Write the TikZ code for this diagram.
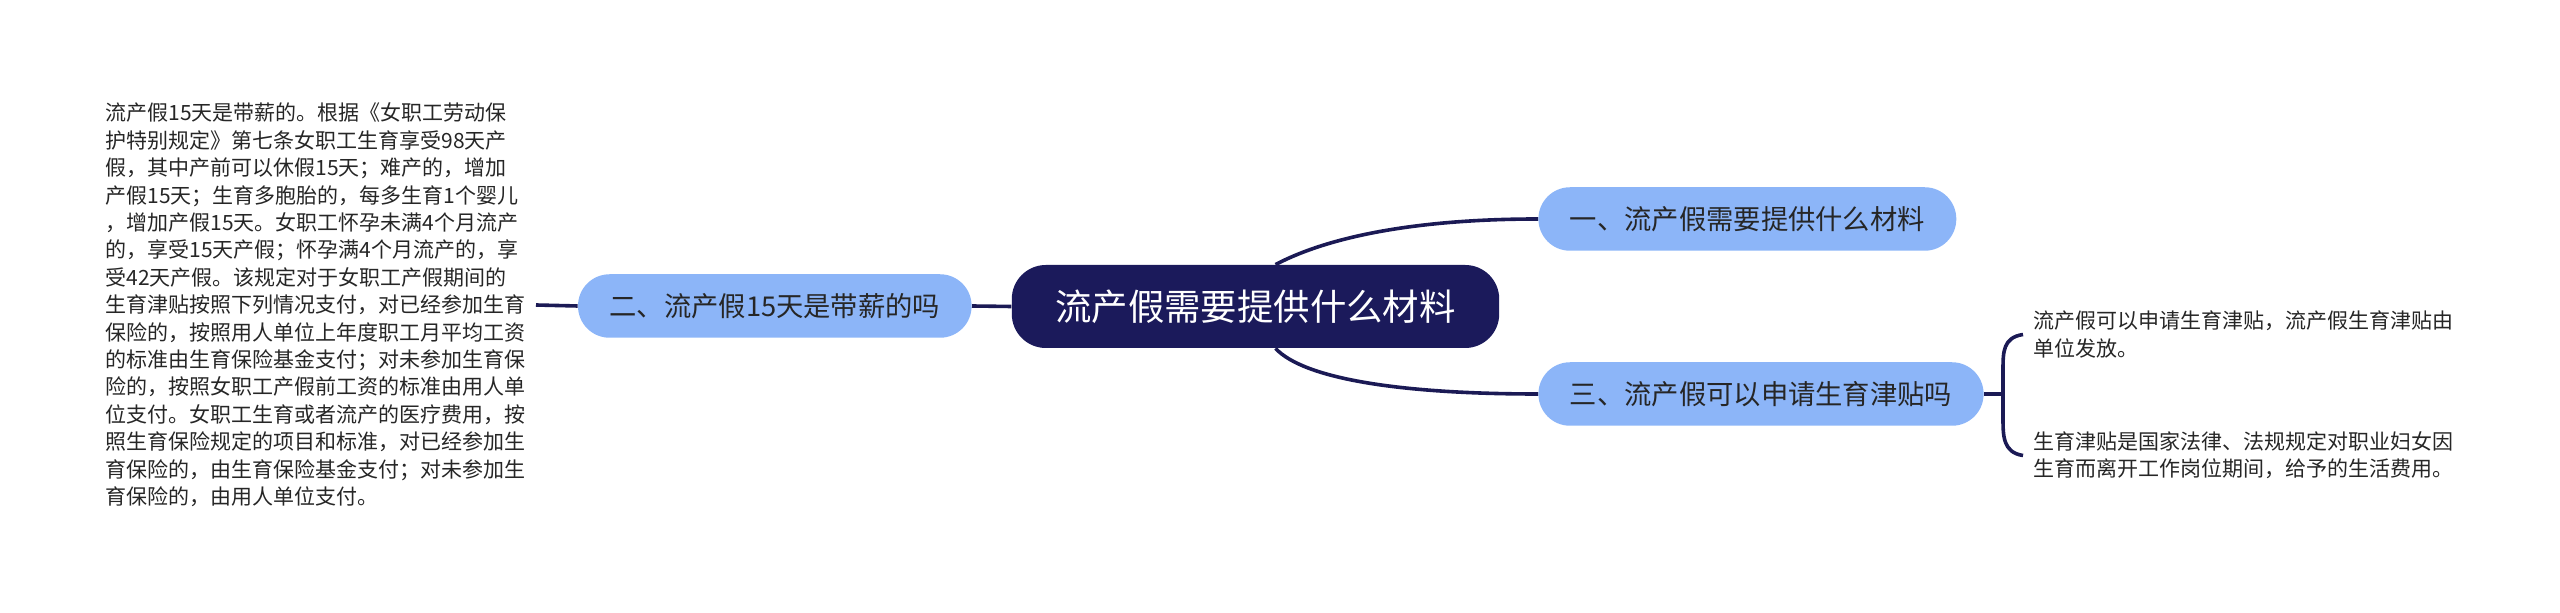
\documentclass[tikz,border=0pt]{standalone}
\usepackage{fontspec}
\setmainfont{Noto Sans CJK SC}
\definecolor{rootblue}{HTML}{1B1A5B}
\definecolor{branchblue}{HTML}{8CB5F8}
\definecolor{linkblue}{HTML}{1B1A55}
\definecolor{leaftext}{HTML}{262626}
\tikzset{
  rootnode/.style={fill=rootblue, text=white, rounded corners=17pt, minimum height=41.5pt, inner xsep=21.75pt, font=\fontsize{18.2}{20}\selectfont},
  branchnode/.style={fill=branchblue, text=leaftext, rounded corners=15.8pt, minimum height=31.75pt, inner xsep=15.75pt, font=\fontsize{13.65}{16}\selectfont},
  leafnode/.style={text=leaftext, align=left, inner sep=5pt, font=\fontsize{10.5}{13.7}\selectfont},
  linkline/.style={draw=linkblue, line width=1.8pt},
}
\begin{document}
\begin{tikzpicture}[x=0.5pt, y=-0.5pt]
  \useasboundingbox (0,0) rectangle (2560,613);
  \node[rootnode] (root) at (1255.5,306.5) {流产假需要提供什么材料};
  \node[branchnode, anchor=west] (b1) at (1538,219) {一、流产假需要提供什么材料}; % top right
  \node[branchnode, anchor=east] (b2) at (972,306) {二、流产假15天是带薪的吗}; % left
  \node[branchnode, anchor=west] (b3) at (1538,394) {三、流产假可以申请生育津贴吗}; % bottom right
  \node[leafnode, anchor=east] (t2) at (536,305) {流产假15天是带薪的。根据《女职工劳动保\\
    护特别规定》第七条女职工生育享受98天产\\
    假，其中产前可以休假15天；难产的，增加\\
    产假15天；生育多胞胎的，每多生育1个婴儿\\
    ，增加产假15天。女职工怀孕未满4个月流产\\
    的，享受15天产假；怀孕满4个月流产的，享\\
    受42天产假。该规定对于女职工产假期间的\\
    生育津贴按照下列情况支付，对已经参加生育\\
    保险的，按照用人单位上年度职工月平均工资\\
    的标准由生育保险基金支付；对未参加生育保\\
    险的，按照女职工产假前工资的标准由用人单\\
    位支付。女职工生育或者流产的医疗费用，按\\
    照生育保险规定的项目和标准，对已经参加生\\
    育保险的，由生育保险基金支付；对未参加生\\
    育保险的，由用人单位支付。};
  \node[leafnode, anchor=west] (t31) at (2023,334.5) {流产假可以申请生育津贴，流产假生育津贴由\\单位发放。};
  \node[leafnode, anchor=west] (t32) at (2023,455.5) {生育津贴是国家法律、法规规定对职业妇女因\\生育而离开工作岗位期间，给予的生活费用。};
  % links
  \draw[linkline] (root.west) -- (b2.east);
  \draw[linkline] (b2.west) -- (t2.east);
  \draw[linkline] ([xshift=10pt]root.north) .. controls +(55,-29) and +(-118,0) .. (b1.west);
  \draw[linkline] ([xshift=10pt]root.south) .. controls +(28,30) and +(-140,0) .. (b3.west);
  % bracket
  \coordinate (fork) at (2003,394);
  \coordinate (forktop) at (2003,370);
  \coordinate (forkbot) at (2003,418);
  \draw[linkline] (b3.east) -- (fork);
  \draw[linkline] (t31.west) .. controls +(-20,3) and +(0,-18) .. (forktop) -- (forkbot) .. controls +(0,18) and +(-20,-3) .. (t32.west);
\end{tikzpicture}
\end{document}
